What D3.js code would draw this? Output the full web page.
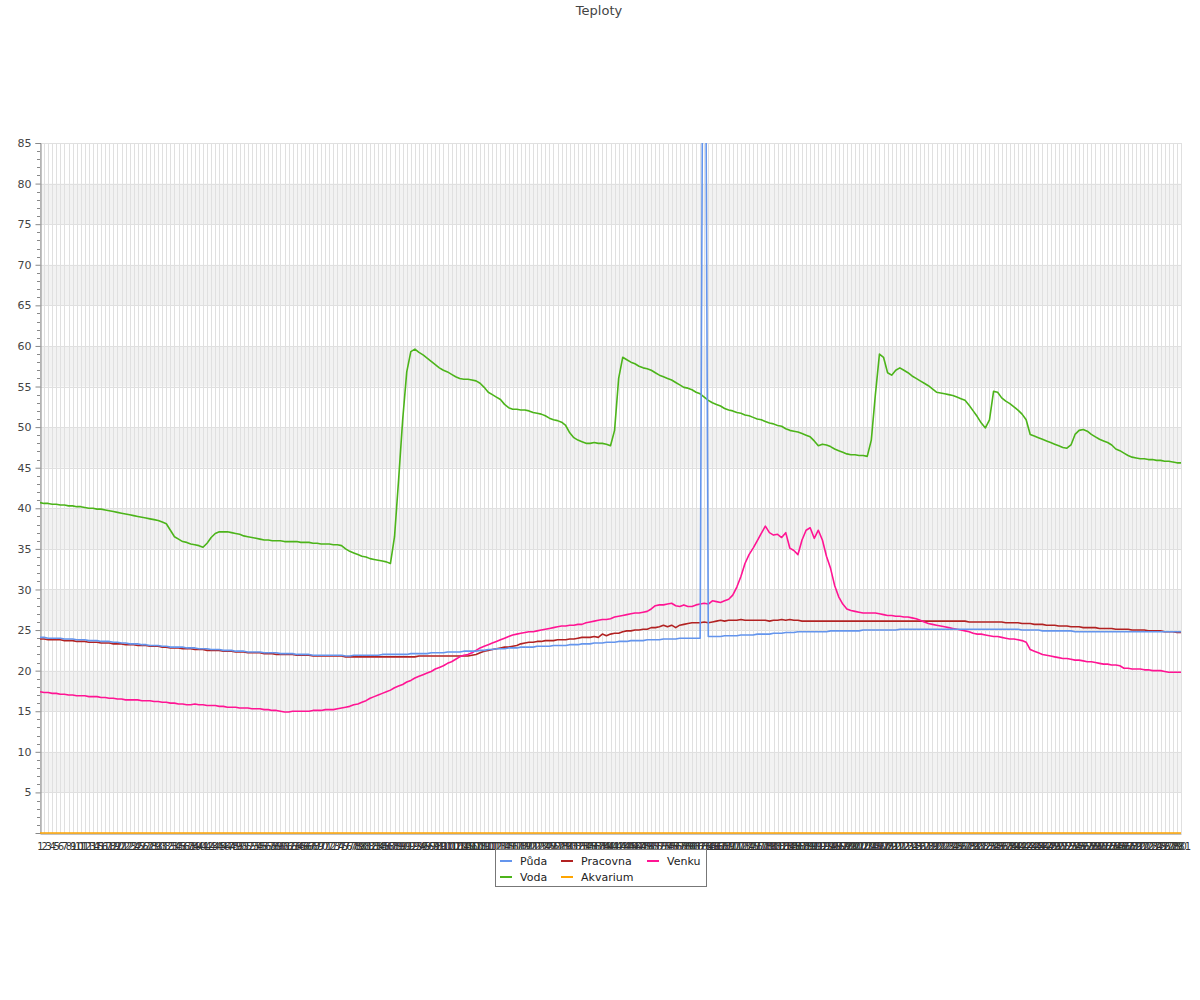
<!DOCTYPE html>
<html><head><meta charset="utf-8">
<script src="https://cdn.jsdelivr.net/npm/d3@7"></script>
<style>body{margin:0;background:#fff} svg{display:block}</style>
</head><body>
<svg id="c" width="1200" height="1000"></svg>
<script>
const categories = [
1,2,3,4,5,6,7,8,9,10,11,12,13,14,15,16,17,18,19,20,
21,22,23,24,25,26,27,28,29,30,31,32,33,34,35,36,37,38,39,40,
41,42,43,44,45,46,47,48,49,50,51,52,53,54,55,56,57,58,59,60,
61,62,63,64,65,66,67,68,69,70,71,72,73,74,75,76,77,78,79,80,
81,82,83,84,85,86,87,88,89,90,91,92,93,94,95,96,97,98,99,100,
101,102,103,104,105,106,107,108,109,110,111,112,113,114,115,116,117,118,119,120,
121,122,123,124,125,126,127,128,129,130,131,132,133,134,135,136,137,138,139,140,
141,142,143,144,145,146,147,148,149,150,151,152,153,154,155,156,157,158,159,160,
161,162,163,164,165,166,167,168,169,170,171,172,173,174,175,176,177,178,179,180,
181,182,183,184,185,186,187,188,189,190,191,192,193,194,195,196,197,198,199,200,
201,202,203,204,205,206,207,208,209,210,211,212,213,214,215,216,217,218,219,220,
221,222,223,224,225,226,227,228,229,230,231,232,233,234,235,236,237,238,239,240,
241,242,243,244,245,246,247,248,249,250,251,252,253,254,255,256,257,258,259,260,
261,262,263,264,265,266,267,268,269,270,271,272,273,274,275,276,277,278,279,280,281];

const seriesNames = ["Půda", "Voda", "Pracovna", "Akvarium", "Venku"];
const yTicks = [5,10,15,20,25,30,35,40,45,50,55,60,65,70,75,80,85];

const puda = [
24.1,24.1,24.0,24.0,24.0,24.0,23.9,23.9,23.9,23.8,
23.8,23.8,23.7,23.7,23.7,23.6,23.6,23.6,23.5,23.5,
23.4,23.4,23.3,23.3,23.3,23.2,23.2,23.1,23.1,23.1,
23.0,23.0,22.9,22.9,22.9,22.9,22.8,22.8,22.8,22.7,
22.7,22.7,22.6,22.6,22.6,22.5,22.5,22.5,22.4,22.4,
22.4,22.3,22.3,22.3,22.3,22.2,22.2,22.2,22.2,22.1,
22.1,22.1,22.1,22.0,22.0,22.0,22.0,21.9,21.9,21.9,
21.9,21.9,21.9,21.9,21.9,21.8,21.8,21.9,21.9,21.9,
21.9,21.9,21.9,21.9,22.0,22.0,22.0,22.0,22.0,22.0,
22.0,22.1,22.1,22.1,22.1,22.1,22.2,22.2,22.2,22.2,
22.3,22.3,22.3,22.3,22.4,22.4,22.4,22.4,22.5,22.5,
22.6,22.6,22.7,22.7,22.7,22.8,22.8,22.8,22.9,22.9,
22.9,22.9,23.0,23.0,23.0,23.0,23.1,23.1,23.1,23.1,
23.2,23.2,23.2,23.3,23.3,23.3,23.4,23.4,23.4,23.5,
23.5,23.5,23.6,23.6,23.6,23.7,23.7,23.7,23.7,23.8,
23.8,23.8,23.8,23.9,23.9,23.9,23.9,24.0,24.0,24.0,
24.0,24.0,24.0,140,24.2,24.2,24.2,24.2,24.3,24.3,
24.3,24.3,24.4,24.4,24.4,24.4,24.5,24.5,24.5,24.5,
24.6,24.6,24.6,24.7,24.7,24.7,24.8,24.8,24.8,24.8,
24.8,24.8,24.8,24.8,24.9,24.9,24.9,24.9,24.9,24.9,
24.9,24.9,25.0,25.0,25.0,25.0,25.0,25.0,25.0,25.0,
25.0,25.1,25.1,25.1,25.1,25.1,25.1,25.1,25.1,25.1,
25.1,25.1,25.1,25.1,25.1,25.1,25.1,25.1,25.1,25.1,
25.1,25.1,25.1,25.1,25.1,25.1,25.1,25.1,25.1,25.1,
25.1,25.0,25.0,25.0,25.0,25.0,24.9,24.9,24.9,24.9,
24.9,24.9,24.9,24.9,24.8,24.8,24.8,24.8,24.8,24.8,
24.8,24.8,24.8,24.8,24.8,24.8,24.8,24.8,24.8,24.8,
24.8,24.8,24.8,24.8,24.8,24.8,24.8,24.8,24.8,24.8,
24.8];

const voda = [
40.7,40.6,40.6,40.5,40.5,40.4,40.4,40.3,40.3,40.2,
40.2,40.1,40.0,40.0,39.9,39.9,39.8,39.7,39.6,39.5,
39.4,39.3,39.2,39.1,39.0,38.9,38.8,38.7,38.6,38.5,
38.3,38.1,37.3,36.5,36.2,35.9,35.8,35.6,35.5,35.4,
35.2,35.7,36.4,36.9,37.1,37.1,37.1,37.0,36.9,36.8,
36.6,36.5,36.4,36.3,36.2,36.1,36.1,36.0,36.0,36.0,
35.9,35.9,35.9,35.9,35.8,35.8,35.8,35.7,35.7,35.6,
35.6,35.6,35.5,35.5,35.4,35.0,34.7,34.5,34.3,34.1,
34.0,33.8,33.7,33.6,33.5,33.4,33.2,36.5,43.5,50.9,
56.8,59.3,59.6,59.2,58.9,58.5,58.1,57.7,57.3,57.0,
56.8,56.5,56.2,56.0,55.9,55.9,55.8,55.7,55.4,54.9,
54.3,54.0,53.7,53.4,52.8,52.4,52.2,52.2,52.1,52.1,
52.0,51.8,51.7,51.6,51.4,51.1,50.9,50.8,50.6,50.2,
49.3,48.7,48.4,48.2,48.0,48.0,48.1,48.0,48.0,47.9,
47.7,49.6,56.0,58.6,58.3,58.0,57.8,57.5,57.3,57.2,
57.0,56.7,56.4,56.2,56.0,55.8,55.5,55.2,54.9,54.8,
54.6,54.3,54.1,53.7,53.3,53.0,52.8,52.6,52.3,52.1,
52.0,51.8,51.7,51.5,51.4,51.2,51.0,50.9,50.7,50.5,
50.4,50.2,50.1,49.8,49.6,49.5,49.4,49.2,49.0,48.8,
48.3,47.7,47.9,47.8,47.6,47.3,47.1,46.9,46.7,46.6,
46.6,46.5,46.5,46.4,48.4,54.0,59.0,58.6,56.7,56.4,
57.0,57.3,57.0,56.7,56.3,56.0,55.7,55.4,55.1,54.7,
54.3,54.2,54.1,54.0,53.9,53.7,53.5,53.3,52.7,52.0,
51.3,50.5,49.9,50.9,54.4,54.3,53.6,53.2,52.9,52.5,
52.1,51.6,50.9,49.1,48.9,48.7,48.5,48.3,48.1,47.9,
47.7,47.5,47.4,47.8,49.1,49.6,49.7,49.5,49.1,48.8,
48.5,48.3,48.1,47.8,47.3,47.1,46.8,46.5,46.3,46.2,
46.1,46.1,46.0,46.0,45.9,45.9,45.8,45.8,45.7,45.6,
45.6];

const pracovna = [
23.9,23.9,23.8,23.8,23.8,23.8,23.7,23.7,23.7,23.6,
23.6,23.6,23.5,23.5,23.5,23.4,23.4,23.4,23.3,23.3,
23.3,23.2,23.2,23.2,23.1,23.1,23.1,23.0,23.0,23.0,
22.9,22.9,22.8,22.8,22.8,22.7,22.7,22.7,22.6,22.6,
22.6,22.5,22.5,22.5,22.5,22.4,22.4,22.4,22.3,22.3,
22.3,22.2,22.2,22.2,22.2,22.1,22.1,22.1,22.0,22.0,
22.0,22.0,22.0,21.9,21.9,21.9,21.9,21.8,21.8,21.8,
21.8,21.8,21.8,21.8,21.8,21.7,21.7,21.7,21.7,21.7,
21.7,21.7,21.7,21.7,21.7,21.7,21.7,21.7,21.7,21.7,
21.7,21.7,21.7,21.8,21.8,21.8,21.8,21.8,21.8,21.8,
21.8,21.8,21.8,21.8,21.8,21.8,21.9,22.0,22.2,22.4,
22.5,22.6,22.7,22.8,22.9,22.9,23.0,23.1,23.3,23.4,
23.5,23.5,23.6,23.6,23.7,23.7,23.7,23.8,23.8,23.8,
23.9,23.9,24.0,24.1,24.1,24.1,24.2,24.1,24.5,24.3,
24.5,24.6,24.6,24.8,24.9,24.9,25.0,25.0,25.1,25.1,
25.3,25.3,25.4,25.6,25.4,25.6,25.3,25.6,25.7,25.8,
25.9,25.9,25.9,26.0,25.9,26.0,26.1,26.2,26.1,26.2,
26.2,26.2,26.3,26.2,26.2,26.2,26.2,26.2,26.2,26.1,
26.2,26.2,26.3,26.2,26.3,26.2,26.2,26.1,26.1,26.1,
26.1,26.1,26.1,26.1,26.1,26.1,26.1,26.1,26.1,26.1,
26.1,26.1,26.1,26.1,26.1,26.1,26.1,26.1,26.1,26.1,
26.1,26.1,26.1,26.1,26.1,26.1,26.1,26.1,26.1,26.1,
26.1,26.1,26.1,26.1,26.1,26.1,26.1,26.1,26.0,26.0,
26.0,26.0,26.0,26.0,26.0,26.0,26.0,25.9,25.9,25.9,
25.9,25.8,25.8,25.8,25.7,25.7,25.7,25.6,25.6,25.6,
25.5,25.5,25.5,25.4,25.4,25.4,25.3,25.3,25.3,25.3,
25.2,25.2,25.2,25.2,25.1,25.1,25.1,25.1,25.0,25.0,
25.0,25.0,24.9,24.9,24.9,24.9,24.8,24.8,24.8,24.7,
24.7];

const akvarium = [
0,0,0,0,0,0,0,0,0,0, 0,0,0,0,0,0,0,0,0,0, 0,0,0,0,0,0,0,0,0,0,
0,0,0,0,0,0,0,0,0,0, 0,0,0,0,0,0,0,0,0,0, 0,0,0,0,0,0,0,0,0,0,
0,0,0,0,0,0,0,0,0,0, 0,0,0,0,0,0,0,0,0,0, 0,0,0,0,0,0,0,0,0,0,
0,0,0,0,0,0,0,0,0,0, 0,0,0,0,0,0,0,0,0,0, 0,0,0,0,0,0,0,0,0,0,
0,0,0,0,0,0,0,0,0,0, 0,0,0,0,0,0,0,0,0,0, 0,0,0,0,0,0,0,0,0,0,
0,0,0,0,0,0,0,0,0,0, 0,0,0,0,0,0,0,0,0,0, 0,0,0,0,0,0,0,0,0,0,
0,0,0,0,0,0,0,0,0,0, 0,0,0,0,0,0,0,0,0,0, 0,0,0,0,0,0,0,0,0,0,
0,0,0,0,0,0,0,0,0,0, 0,0,0,0,0,0,0,0,0,0, 0,0,0,0,0,0,0,0,0,0,
0,0,0,0,0,0,0,0,0,0, 0,0,0,0,0,0,0,0,0,0, 0,0,0,0,0,0,0,0,0,0,
0,0,0,0,0,0,0,0,0,0,
0];

const venku = [
17.4,17.3,17.3,17.2,17.2,17.1,17.1,17.0,17.0,16.9,
16.9,16.9,16.8,16.8,16.8,16.7,16.7,16.6,16.6,16.5,
16.5,16.4,16.4,16.4,16.4,16.3,16.3,16.3,16.2,16.2,
16.1,16.1,16.0,16.0,15.9,15.9,15.8,15.8,15.9,15.8,
15.8,15.7,15.7,15.7,15.6,15.6,15.5,15.5,15.5,15.4,
15.4,15.4,15.3,15.3,15.3,15.2,15.2,15.1,15.1,15.0,
14.9,14.9,15.0,15.0,15.0,15.0,15.0,15.1,15.1,15.1,
15.2,15.2,15.2,15.3,15.4,15.5,15.6,15.8,15.9,16.1,
16.3,16.6,16.8,17.0,17.2,17.4,17.6,17.9,18.1,18.3,
18.6,18.8,19.1,19.3,19.5,19.7,19.9,20.2,20.4,20.6,
20.9,21.1,21.4,21.7,21.9,22.0,22.2,22.5,22.8,23.0,
23.2,23.4,23.6,23.8,24.0,24.2,24.4,24.5,24.6,24.7,
24.8,24.8,24.9,25.0,25.1,25.2,25.3,25.4,25.5,25.5,
25.6,25.6,25.7,25.7,25.9,26.0,26.1,26.2,26.3,26.3,
26.4,26.6,26.7,26.8,26.9,27.0,27.1,27.1,27.2,27.3,
27.6,28.0,28.1,28.1,28.2,28.3,28.0,27.9,28.1,27.9,
27.9,28.1,28.2,28.3,28.2,28.6,28.5,28.4,28.6,28.8,
29.3,30.3,31.6,33.2,34.3,35.1,36.0,36.9,37.8,37.0,
36.7,36.8,36.4,37.0,35.1,34.8,34.3,36.1,37.3,37.6,
36.3,37.3,36.1,34.1,32.6,30.5,29.1,28.2,27.6,27.4,
27.3,27.2,27.1,27.1,27.1,27.1,27.0,26.9,26.8,26.8,
26.7,26.7,26.6,26.6,26.5,26.4,26.2,26.0,25.8,25.7,
25.6,25.5,25.4,25.3,25.2,25.1,25.0,24.9,24.8,24.6,
24.5,24.5,24.4,24.3,24.2,24.2,24.1,24.0,23.9,23.9,
23.8,23.7,23.5,22.6,22.4,22.2,22.0,21.9,21.8,21.7,
21.6,21.5,21.5,21.4,21.3,21.3,21.2,21.1,21.1,21.0,
20.9,20.8,20.8,20.7,20.7,20.6,20.3,20.3,20.2,20.2,
20.2,20.1,20.1,20.0,20.0,20.0,19.9,19.8,19.8,19.8,
19.8];

// ---- layout / styles ----
const L = 40, R = 1181, T = 143, B = 833;
const FONT = "'DejaVu Sans', sans-serif";
const colors = {"Půda":"#6495ED","Voda":"#4CB41A","Pracovna":"#B22222","Akvarium":"#FFA500","Venku":"#FF1493"};
const seriesData = {"Půda":puda,"Voda":voda,"Pracovna":pracovna,"Akvarium":akvarium,"Venku":venku};

const svg = d3.select("#c");
const x = d3.scalePoint().domain(categories).range([L, R]);
const y = d3.scaleLinear().domain([0, 85]).range([B, T]);

// title
svg.append("text").attr("x", 599).attr("y", 15).attr("text-anchor","middle")
  .attr("font-family", FONT).attr("font-size", 13).attr("fill", "#444").text("Teploty");

// alternating bands
const bandStarts = yTicks.filter(v => v % 10 === 5 && v < 85);
svg.append("g").selectAll("rect").data(bandStarts).join("rect")
  .attr("x", L).attr("width", R - L)
  .attr("y", d => y(d + 5)).attr("height", d => y(d) - y(d + 5))
  .attr("fill", "#f2f2f2");

// vertical grid lines
svg.append("g").selectAll("line").data(categories).join("line")
  .attr("x1", d => Math.round(x(d)) + 0.5).attr("x2", d => Math.round(x(d)) + 0.5)
  .attr("y1", T).attr("y2", B)
  .attr("stroke", "#e0e0e0").attr("stroke-width", 1);

// horizontal grid lines
svg.append("g").selectAll("line").data(yTicks).join("line")
  .attr("x1", L).attr("x2", R)
  .attr("y1", d => Math.round(y(d)) + 0.5).attr("y2", d => Math.round(y(d)) + 0.5)
  .attr("stroke", "#e0e0e0").attr("stroke-width", 1);

// y axis with minor ticks
const yAxis = d3.axisLeft(y).tickValues(yTicks).tickSize(5).tickPadding(4);
const gy = svg.append("g").attr("transform", `translate(${L + 0.5},0)`).call(yAxis);
gy.select(".domain").attr("stroke", "#888");
gy.selectAll(".tick line").attr("stroke", "#888");
gy.selectAll(".tick text").attr("font-family", FONT).attr("font-size", 11).attr("fill", "#444");
const minor = d3.range(1, 85).filter(v => v % 5 !== 0);
svg.append("g").selectAll("line").data(minor).join("line")
  .attr("x1", L - 3).attr("x2", L)
  .attr("y1", d => Math.round(y(d)) + 0.5).attr("y2", d => Math.round(y(d)) + 0.5)
  .attr("stroke", "#888");

// x axis
const xAxis = d3.axisBottom(x).tickSize(0).tickPadding(9);
const gx = svg.append("g").attr("transform", `translate(0,${B + 0.5})`).call(xAxis);
gx.select(".domain").attr("stroke", "#888");
gx.selectAll(".tick text").attr("font-family", FONT).attr("font-size", 10).attr("fill", "#333");

// clip
svg.append("clipPath").attr("id", "clip").append("rect")
  .attr("x", L).attr("y", T).attr("width", R - L + 2).attr("height", B - T + 2);

const line = d3.line().x((d, i) => x(categories[i])).y(d => y(d));
const drawOrder = ["Akvarium", "Voda", "Pracovna", "Venku", "Půda"];
const gl = svg.append("g").attr("clip-path", "url(#clip)");
drawOrder.forEach(name => {
  gl.append("path").datum(seriesData[name]).attr("d", line)
    .attr("fill", "none").attr("stroke", colors[name]).attr("stroke-width", 1.6)
    .attr("stroke-linejoin", "round");
});

// legend
const lg = svg.append("g");
lg.append("rect").attr("x", 495.5).attr("y", 849.5).attr("width", 211).attr("height", 37)
  .attr("fill", "#fff").attr("stroke", "#777");
const legendItems = [
  {name: "Půda", cx: 500, cy: 861},
  {name: "Pracovna", cx: 561, cy: 861},
  {name: "Venku", cx: 647, cy: 861},
  {name: "Voda", cx: 500, cy: 877},
  {name: "Akvarium", cx: 561, cy: 877}
];
legendItems.forEach(it => {
  lg.append("line").attr("x1", it.cx).attr("x2", it.cx + 12)
    .attr("y1", it.cy).attr("y2", it.cy)
    .attr("stroke", colors[it.name]).attr("stroke-width", 2);
  lg.append("text").attr("x", it.cx + 20).attr("y", it.cy + 4)
    .attr("font-family", FONT).attr("font-size", 11).attr("fill", "#222").text(it.name);
});
</script>
</body></html>
